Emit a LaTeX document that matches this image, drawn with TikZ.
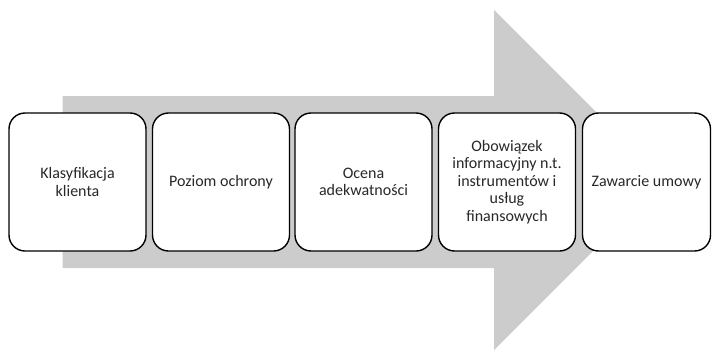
\documentclass[tikz,border=0pt]{standalone}
\usepackage{fontspec}
\setmainfont{Carlito}
\definecolor{arrowgray}{RGB}{204,204,204}
\definecolor{txtgray}{RGB}{40,40,40}
\begin{document}
\begin{tikzpicture}[x=1pt,y=-1pt,
  stepbox/.style={draw=black, line width=1.4pt, fill=white, rounded corners=16pt,
    minimum height=138pt, inner sep=2pt, align=center, text=txtgray,
    font=\fontsize{16}{17.6}\selectfont}]
\useasboundingbox (0,0) rectangle (712,351);
\fill[arrowgray] (62.5,96) -- (494,96) -- (494,10) -- (664,180) -- (494,350) -- (494,268) -- (62.5,268) -- cycle;
\node[stepbox, minimum width=137pt] (b1) at (77.5,182) {Klasyfikacja\\klienta};
\node[stepbox, minimum width=137pt] (b2) at (221,182) {Poziom ochrony};
\node[stepbox, minimum width=137pt] (b3) at (363.5,182) {Ocena\\adekwatności};
\node[stepbox, minimum width=137pt] (b4) at (507,182) {Obowiązek\\informacyjny n.t.\\instrumentów i\\usług\\finansowych};
\node[stepbox, minimum width=128pt] (b5) at (646.5,182) {Zawarcie umowy};
\end{tikzpicture}
\end{document}
